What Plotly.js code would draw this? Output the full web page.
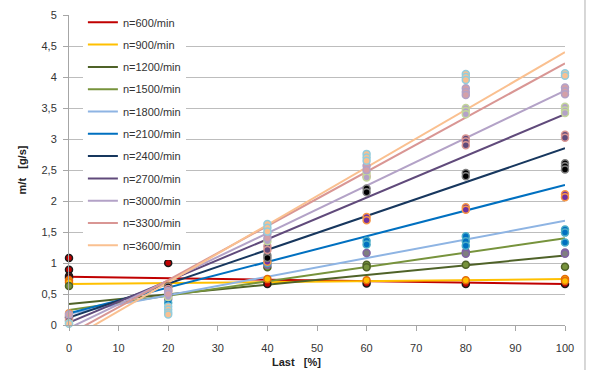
<!DOCTYPE html>
<html>
<head>
<meta charset="utf-8">
<script src="https://cdn.plot.ly/plotly-3.0.1.min.js"></script>
<style>html,body{margin:0;padding:0;background:#fff;}#chart{width:590px;height:370px;}</style>
</head>
<body>
<div id="chart"></div>
<script>
// Series names
const seriesNames = ["n=600/min","n=900/min","n=1200/min","n=1500/min","n=1800/min","n=2100/min","n=2400/min","n=2700/min","n=3000/min","n=3300/min","n=3600/min"];

// Trendline values read at Last = 0 % and Last = 100 %
const trendX = [0, 100];
const trendAt0   = [0.78, 0.66, 0.34, 0.24, 0.18, 0.19, 0.12, 0.04, -0.05, -0.15, -0.24];
const trendAt100 = [0.66, 0.74, 1.12, 1.40, 1.68, 2.26, 2.85, 3.40, 3.78, 4.22, 4.40];

// Measured points per series
const x_n600  = [0,0,0,0,20,40,60,80,100];
const y_n600  = [1.08,0.89,0.79,0.76,1.00,0.66,0.67,0.66,0.66];
const x_n900  = [0,0,20,40,60,80,100,100];
const y_n900  = [0.72,0.69,0.63,0.74,0.72,0.72,0.74,0.71];
const x_n1200 = [0,20,40,60,60,80,100];
const y_n1200 = [0.63,0.47,0.93,0.97,0.93,0.97,0.94];
const x_n1500 = [0,20,40,60,80,80,100,100];
const y_n1500 = [0.12,0.42,0.97,1.16,1.18,1.15,1.17,1.15];
const x_n1800 = [0,20,40,60,60,80,80,80,100,100,100];
const y_n1800 = [0.06,0.36,1.00,1.36,1.30,1.43,1.35,1.28,1.54,1.49,1.33];
const x_n2100 = [0,0,20,40,60,60,80,80,100,100];
const y_n2100 = [0.19,0.15,0.55,1.02,1.74,1.69,1.90,1.86,2.11,2.06];
const x_n2400 = [0,20,40,40,60,60,80,80,100,100,100];
const y_n2400 = [0.12,0.62,1.12,1.08,2.20,2.14,2.45,2.40,2.61,2.56,2.51];
const x_n2700 = [0,20,40,40,60,80,80,80,100,100];
const y_n2700 = [0.08,0.58,1.27,1.21,2.40,3.01,2.96,2.90,3.07,3.02];
const x_n3000 = [0,20,40,60,60,80,80,80,100,100,100];
const y_n3000 = [0.03,0.45,1.35,2.45,2.38,3.50,3.45,3.40,3.52,3.46,3.42];
const x_n3300 = [0,20,20,40,40,60,60,80,80,80,100,100,100];
const y_n3300 = [0.17,0.55,0.50,1.47,1.40,2.57,2.50,3.82,3.76,3.71,3.83,3.77,3.72];
const x_n3600 = [0,20,20,20,20,40,40,40,60,60,60,80,80,80,100,100];
const y_n3600 = [0.02,0.30,0.25,0.20,0.17,1.63,1.57,1.51,2.76,2.70,2.65,4.05,4.00,3.95,4.06,4.02];

const xTickVals = [0,10,20,30,40,50,60,70,80,90,100];
const yTickVals = [0,0.5,1,1.5,2,2.5,3,3.5,4,4.5,5];

// Styles
const lineColors   = ["#C00000","#FFC000","#4F6228","#77933C","#8EB4E3","#0070C0","#17375E","#604A7B","#B3A2C7","#D99694","#FAC090"];
const markerFill   = ["#C00000","#FFC000","#77933C","#7F7F7F","#0070C0","#7030A0","#000000","#604A7B","#B3A2C7","#D4A0A8","#FAC090"];
const markerBorder = ["#1a1a1a","#E46C0A","#4F6228","#8064A2","#4BACC6","#F79646","#7F7F7F","#D99694","#C3D69B","#B3A2C7","#93CDDD"];

const pointsX = [x_n600,x_n900,x_n1200,x_n1500,x_n1800,x_n2100,x_n2400,x_n2700,x_n3000,x_n3300,x_n3600];
const pointsY = [y_n600,y_n900,y_n1200,y_n1500,y_n1800,y_n2100,y_n2400,y_n2700,y_n3000,y_n3300,y_n3600];

const traces = [];
seriesNames.forEach((nm, i) => {
  traces.push({
    type: "scatter", mode: "lines", name: nm, legendgroup: nm,
    x: trendX, y: [trendAt0[i], trendAt100[i]],
    line: {color: lineColors[i], width: 2},
    hoverinfo: "skip"
  });
});
seriesNames.forEach((nm, i) => {
  traces.push({
    type: "scatter", mode: "markers", name: nm, legendgroup: nm, showlegend: false,
    x: pointsX[i], y: pointsY[i], cliponaxis: false,
    marker: {size: 7, color: markerFill[i], line: {color: markerBorder[i], width: 1.5}}
  });
});

const layout = {
  width: 590, height: 370,
  margin: {l: 69, r: 25, t: 15, b: 45, autoexpand: false},
  paper_bgcolor: "#ffffff", plot_bgcolor: "#ffffff",
  separators: ",.",
  font: {family: "Liberation Sans, Arial, sans-serif", size: 11, color: "#333333"},
  showlegend: true,
  legend: {
    x: 0.028, y: 1.0233, xanchor: "left", yanchor: "top",
    bgcolor: "#ffffff", borderwidth: 0, maxheight: 330,
    traceorder: "grouped", tracegroupgap: 3.3,
    font: {size: 11, color: "#333333"}
  },
  xaxis: {
    range: [0, 100], tickvals: xTickVals, ticks: "outside", ticklen: 5, tickcolor: "#A6A6A6",
    showline: true, linecolor: "#A6A6A6", linewidth: 1, showgrid: false, zeroline: false,
    ticklabelstandoff: 8, tickfont: {size: 11, color: "#333333"}
  },
  yaxis: {
    range: [0, 5], tickvals: yTickVals, ticks: "outside", ticklen: 5, tickcolor: "#A6A6A6",
    showline: true, linecolor: "#A6A6A6", linewidth: 1,
    showgrid: true, gridcolor: "#BDBDBD", gridwidth: 1, zeroline: false,
    ticklabelstandoff: 4, tickfont: {size: 11, color: "#333333"},
    title: {text: "m/t\u00a0\u00a0\u00a0[g/s]", font: {size: 11, color: "#222222", weight: "bold"}, standoff: 12}
  },
  annotations: [{
    text: "Last\u00a0\u00a0\u00a0[%]", showarrow: false,
    xref: "x", yref: "paper", x: 45.8, y: -0.119, xanchor: "center", yanchor: "middle",
    font: {size: 11, color: "#222222", weight: "bold"}
  }],
  shapes: [{
    type: "line", xref: "paper", yref: "paper", x0: 1.0403, x1: 1.0403, y0: -1, y1: 2,
    line: {color: "#B0B0B0", width: 1}
  }]
};

Plotly.newPlot("chart", traces, layout, {staticPlot: true, displayModeBar: false});
</script>
</body>
</html>
